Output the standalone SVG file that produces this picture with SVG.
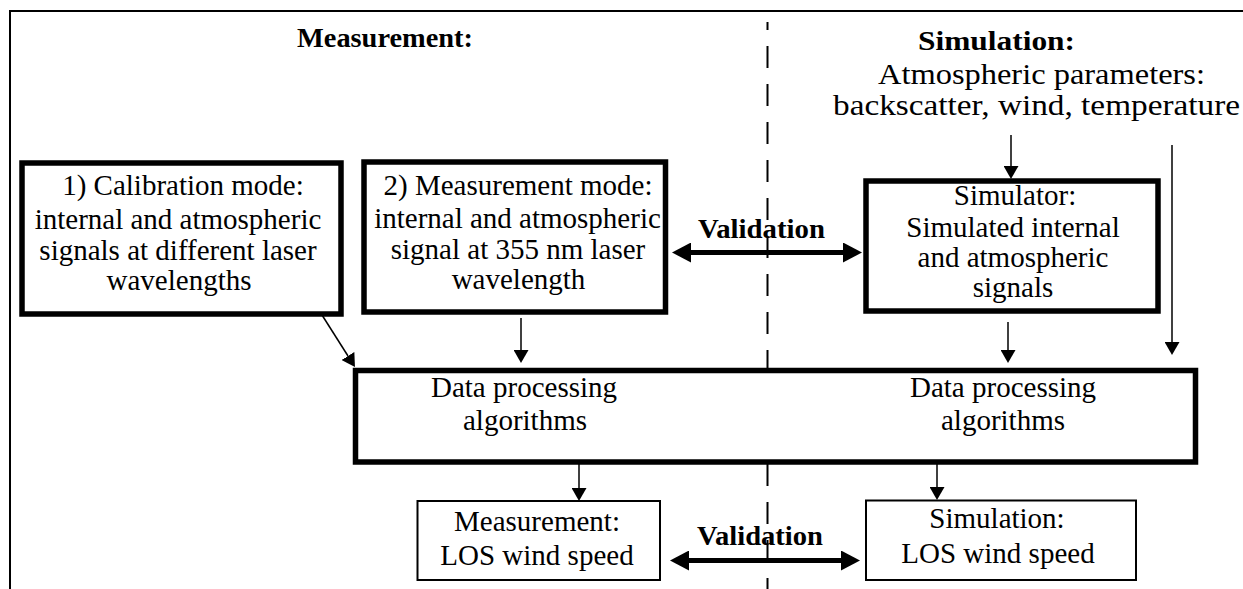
<svg xmlns="http://www.w3.org/2000/svg" width="1243" height="589" viewBox="0 0 1243 589">
<defs>
<style>
.t{font-family:"Liberation Serif","Times New Roman",serif;font-size:29px;fill:#000;text-anchor:middle}
.b{font-family:"Liberation Serif","Times New Roman",serif;font-size:28px;font-weight:bold;fill:#000;text-anchor:middle}
.thick{fill:#fff;stroke:#000;stroke-width:5.5}
.thin{fill:#fff;stroke:#000;stroke-width:2}
.arr{stroke:#000;stroke-width:1.5;fill:none;marker-end:url(#ah)}
.val{stroke:#000;stroke-width:5;fill:none;marker-start:url(#vh);marker-end:url(#vh)}
</style>
<marker id="ah" markerUnits="userSpaceOnUse" viewBox="0 0 13 15" markerWidth="13" markerHeight="15" refX="0" refY="7.5" orient="auto"><path d="M0,0 L13,7.5 L0,15 z" fill="#000"/></marker>
<marker id="vh" markerUnits="userSpaceOnUse" viewBox="0 0 19 20" markerWidth="19" markerHeight="20" refX="0" refY="10" orient="auto-start-reverse"><path d="M0,0 L19,10 L0,20 z" fill="#000"/></marker>
</defs>
<g id="frame">
<path d="M10,589 L10,11 L1243,11" fill="none" stroke="#000" stroke-width="2"/>
<line x1="767.5" y1="22" x2="767.5" y2="589" stroke="#000" stroke-width="2" stroke-dasharray="22 16" stroke-dashoffset="14"/>
</g>
<g id="headers">
<text class="b" x="385" y="47" textLength="176" lengthAdjust="spacingAndGlyphs">Measurement:</text>
<text class="b" x="996.5" y="50" textLength="157" lengthAdjust="spacingAndGlyphs">Simulation:</text>
</g>
<g id="atmos">
<text class="t" x="1041.5" y="84" textLength="327" lengthAdjust="spacingAndGlyphs">Atmospheric parameters:</text>
<text class="t" x="1036.5" y="115" textLength="407" lengthAdjust="spacingAndGlyphs">backscatter, wind, temperature</text>
</g>
<g id="calibration">
<rect class="thick" x="22" y="163" width="319" height="151"/>
<text class="t" x="183" y="195">1) Calibration mode:</text>
<text class="t" x="178" y="229">internal and atmospheric</text>
<text class="t" x="178" y="260">signals at different laser</text>
<text class="t" x="179" y="290">wavelengths</text>
</g>
<g id="measmode">
<rect class="thick" x="364" y="162" width="301.5" height="150"/>
<text class="t" x="518" y="195">2) Measurement mode:</text>
<text class="t" x="517.5" y="228">internal and atmospheric</text>
<text class="t" x="518" y="259">signal at 355 nm laser</text>
<text class="t" x="518.5" y="289">wavelength</text>
</g>
<g id="simulator">
<rect class="thick" x="866" y="181" width="292" height="130"/>
<text class="t" x="1015" y="205">Simulator:</text>
<text class="t" x="1013" y="237">Simulated internal</text>
<text class="t" x="1013" y="267">and atmospheric</text>
<text class="t" x="1013" y="297">signals</text>
</g>
<g id="processing">
<rect class="thick" x="355.5" y="370.5" width="840" height="91.5"/>
<text class="t" x="524" y="397">Data processing</text>
<text class="t" x="525" y="430">algorithms</text>
<text class="t" x="1003" y="397">Data processing</text>
<text class="t" x="1003" y="430">algorithms</text>
</g>
<g id="measlos">
<rect class="thin" x="417.5" y="501" width="242.5" height="79"/>
<text class="t" x="537" y="531">Measurement:</text>
<text class="t" x="537" y="565">LOS wind speed</text>
</g>
<g id="simlos">
<rect class="thin" x="866" y="500.5" width="270" height="79.5"/>
<text class="t" x="997" y="528">Simulation:</text>
<text class="t" x="998" y="563">LOS wind speed</text>
</g>
<g id="connectors">
<line class="arr" x1="1011" y1="135" x2="1011" y2="166"/>
<line class="arr" x1="1172" y1="145" x2="1172" y2="342"/>
<line class="arr" x1="1008" y1="322" x2="1008" y2="350"/>
<line class="arr" x1="521" y1="318" x2="521" y2="350"/>
<line class="arr" x1="322" y1="315" x2="348" y2="356"/>
<line class="arr" x1="579" y1="464" x2="579" y2="488"/>
<line class="arr" x1="937" y1="464" x2="937" y2="487"/>
<line class="val" x1="691" y1="252.5" x2="843" y2="252.5"/>
<line class="val" x1="689" y1="560.5" x2="841" y2="560.5"/>
<text class="b" x="761.5" y="238" textLength="127" lengthAdjust="spacingAndGlyphs">Validation</text>
<text class="b" x="760" y="545" textLength="126" lengthAdjust="spacingAndGlyphs">Validation</text>
</g>
</svg>
